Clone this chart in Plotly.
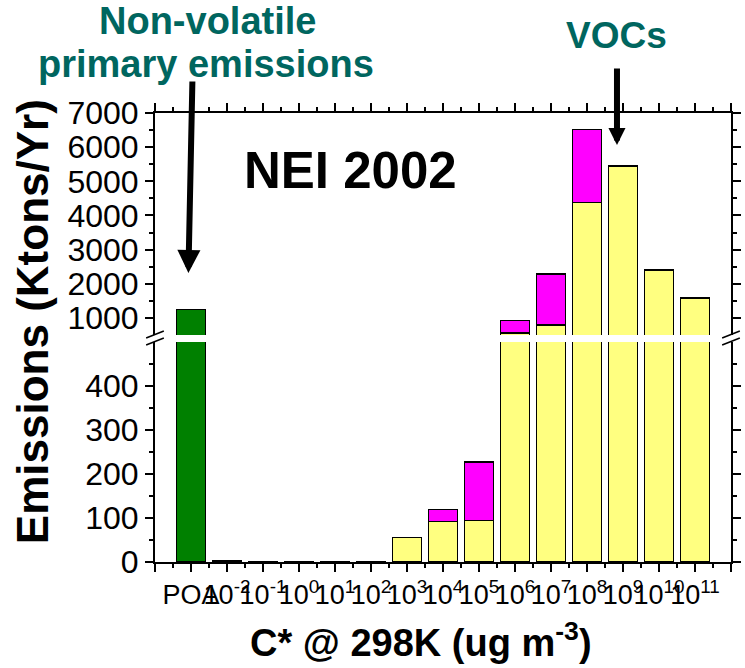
import plotly.graph_objects as go

# Volatility bins (C* at 298 K, ug m^-3)
categories = ["POA", "10<sup>-2</sup>", "10<sup>-1</sup>", "10<sup>0</sup>", "10<sup>1</sup>",
              "10<sup>2</sup>", "10<sup>3</sup>", "10<sup>4</sup>", "10<sup>5</sup>", "10<sup>6</sup>",
              "10<sup>7</sup>", "10<sup>8</sup>", "10<sup>9</sup>", "10<sup>10</sup>", "10<sup>11</sup>"]

# Emissions, Ktons/Yr
poa_emissions = [1250, 0, 0, 0, 0, 0, 0, 0, 0, 0, 0, 0, 0, 0, 0]
voc_emissions = [0, 3, 0.2, 0.3, 0.8, 1.2, 55, 92, 95, 560, 790, 4380, 5450, 2400, 1580]
other_emissions = [0, 0, 0, 0, 0, 0, 0, 27, 132, 373, 1500, 2135, 0, 0, 0]

lower_ticks = [0, 100, 200, 300, 400]
upper_ticks = [1000, 2000, 3000, 4000, 5000, 6000, 7000]

FONT = "Liberation Sans, Arial, Helvetica, sans-serif"
W, H = 745, 668
ML, MR, MT, MB = 155, 4, 113, 106
PW, PH = W - ML - MR, H - MT - MB

def px(x):
    return (x - ML) / PW

def py(y):
    return (H - MB - y) / PH

xs = list(range(len(categories)))
series = [
    ("POA", poa_emissions, "#008000"),
    ("VOC", voc_emissions, "#FFFF80"),
    ("Other", other_emissions, "#FF00FF"),
]

fig = go.Figure()
for xa, ya in (("x", "y"), ("x2", "y2")):
    for name, vals, col in series:
        fig.add_trace(go.Bar(
            x=xs, y=vals, name=name, xaxis=xa, yaxis=ya,
            marker=dict(color=col, line=dict(color="black", width=1.3)),
            showlegend=False, hoverinfo="skip",
        ))

xt = list(range(-1, len(categories) + 1))
xtext = [""] + categories + [""]
xminor = [v + 0.5 for v in range(-1, len(categories))]

axis_common = dict(showline=True, linecolor="black", linewidth=2, ticks="outside",
                   ticklen=8, tickwidth=2, tickcolor="black", showgrid=False,
                   zeroline=False)

lower_top = 220 / PH
upper_bottom = (H - MB - 335) / PH

fig.update_layout(
    width=W, height=H,
    margin=dict(l=ML, r=MR, t=MT, b=MB),
    paper_bgcolor="white", plot_bgcolor="white",
    barmode="stack", bargap=0.18,
    font=dict(family=FONT, color="black"),
    xaxis=dict(axis_common, anchor="y", domain=[0, 1], range=[-1, len(categories)],
               tickmode="array", tickvals=xt, ticktext=xtext,
               tickfont=dict(size=27, family=FONT, color="black"), tickangle=0,
               minor=dict(tickmode="array", tickvals=xminor, ticks="outside",
                          ticklen=4, tickwidth=1.5, tickcolor="black")),
    xaxis2=dict(axis_common, anchor="y2", matches="x", side="top", range=[-1, len(categories)],
                tickmode="array", tickvals=xt, showticklabels=False,
                minor=dict(tickmode="array", tickvals=xminor, ticks="outside",
                           ticklen=4, tickwidth=1.5, tickcolor="black")),
    yaxis=dict(axis_common, anchor="x", domain=[0, lower_top], range=[0, 500],
               mirror="ticks", tickmode="array", tickvals=lower_ticks,
               tickfont=dict(size=32, family=FONT, color="black"),
               minor=dict(tickmode="array", tickvals=[v + 50 for v in lower_ticks],
                          ticks="outside", ticklen=4, tickwidth=1.5, tickcolor="black")),
    yaxis2=dict(axis_common, anchor="x2", domain=[upper_bottom, 1], range=[500, 7000],
                mirror="ticks", tickmode="array", tickvals=upper_ticks,
                tickfont=dict(size=32, family=FONT, color="black"),
                minor=dict(tickmode="array", tickvals=[v + 500 for v in upper_ticks[:-1]],
                           ticks="outside", ticklen=4, tickwidth=1.5, tickcolor="black")),
)

teal = "#00665F"
annotations = [
    dict(text="<b>Non-volatile</b>", x=px(208), y=py(21), font=dict(size=38, color=teal)),
    dict(text="<b>primary emissions</b>", x=px(207), y=py(64), font=dict(size=38, color=teal)),
    dict(text="<b>VOCs</b>", x=px(625), y=py(36), font=dict(size=37, color=teal)),
    dict(text="<b>NEI 2002</b>", x=px(354), y=py(170), font=dict(size=51, color="black")),
    dict(text="<b>Emissions (Ktons/Yr)</b>", x=px(30), y=py(322), textangle=-90,
         font=dict(size=44, color="black")),
    dict(text="<b>C* @ 298K (ug m<sup>-3</sup>)</b>", x=px(426), y=py(640),
         font=dict(size=38, color="black")),
]
for a in annotations:
    fig.add_annotation(xref="paper", yref="paper", xanchor="center", yanchor="middle",
                       showarrow=False, font_family=FONT, **a)

# Pointer arrows
fig.add_annotation(xref="paper", yref="paper", x=px(189), y=py(273), ax=4, ay=-193,
                   text="", showarrow=True, arrowhead=2, arrowwidth=6, arrowsize=0.77,
                   arrowcolor="black", standoff=0)
fig.add_annotation(xref="paper", yref="paper", x=px(625), y=py(145), ax=0, ay=-78,
                   text="", showarrow=True, arrowhead=2, arrowwidth=6, arrowsize=0.57,
                   arrowcolor="black", standoff=0)

# Axis-break marks on both sides
for cx in (ML, ML + PW):
    for dy in (0, 7):
        fig.add_shape(type="line", xref="paper", yref="paper",
                      x0=px(cx - 9), y0=py(338 + dy), x1=px(cx + 9), y1=py(331 + dy),
                      line=dict(color="black", width=1.5))

fig.write_html("out.html")
